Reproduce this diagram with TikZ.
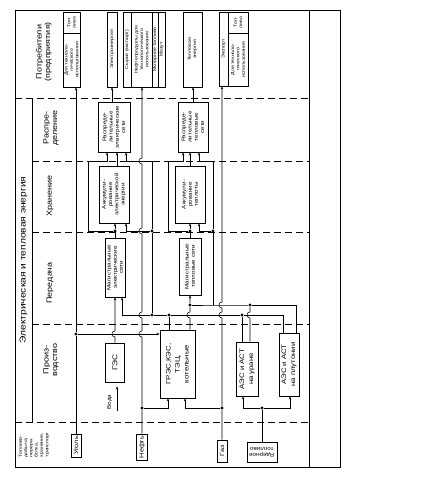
\documentclass[tikz,border=0pt]{standalone}
\usepackage{fontspec}
\setmainfont{Liberation Sans}[FakeStretch=1.2]
\usetikzlibrary{arrows.meta}

\newcommand\boxtxt{\fontsize{5.2}{6.2}\selectfont}
\newcommand\celltxt{\fontsize{4.3}{5.3}\selectfont}
\newcommand\fueltxt{\fontsize{6}{7}\selectfont}
\newcommand\planttxt{\fontsize{6.5}{9}\selectfont}
\newcommand\stagetxt{\fontsize{7.5}{8.5}\selectfont}
\newcommand\headtxt{\fontsize{8.5}{10}\selectfont}
\newcommand\hop[2]{-- (#1,#2+3) .. controls (#1-4,#2+3) and (#1-4,#2-3) .. (#1,#2-3)}

\begin{document}
\begin{tikzpicture}
    [x=1pt, y=-1pt,
    line width=0.55pt,
    every node/.style={inner sep=0.5pt},
    dims/.style 2 args={minimum width=#1pt, minimum height=#2pt},
    box/.style={draw, rotate=90, align=center, font=\boxtxt},
    cell/.style={draw, rotate=90, align=center, inner sep=0pt, font=\celltxt},
    stage/.style={rotate=90, align=center, font=\stagetxt},
    dot/.style={circle, fill, inner sep=0pt, minimum size=3.4pt},
    flow/.style={-{Stealth[length=3.2pt, width=2.4pt]}},
    cut/.style={dash pattern=on 7pt off 4pt}
    ]
    \useasboundingbox (0,0) rectangle (434,479);
    \draw (15,10) rectangle (340,467);
    \draw (309,10) -- (309,467);
    \draw (32,98) -- (32,422);
    \foreach \y/\x in {98/15, 161/32, 232/32, 324/32, 422/15}
        \draw[cut] (\x,\y) -- (309,\y);

    \node[stage, font=\headtxt] (energy) at (23.5,260) {Электрическая и тепловая энергия};
    \node[stage] (consumers) at (44,52) {Потребители\\(предприятия)};
    \node[stage] (distribution) at (51,128) {Распре-\\деление};
    \node[stage] (storage) at (50,196) {Хранение};
    \node[stage] (transmission) at (50,283) {Передача};
    \node[stage] (production) at (51,360) {Произ-\\водство};
    \node[stage, font=\celltxt, align=left] (fuel) at (34,445) {Топливо-\\добыча,\\перера-\\ботка,\\хранение,\\транспорт};

    \node[box, font=\fueltxt, dims={23}{10}] (coal) at (76,445.5) {Уголь};
    \node[box, font=\fueltxt, dims={26}{11}] (oil) at (142,447) {Нефть};
    \node[box, font=\fueltxt, dims={22}{10}] (gas) at (222,451) {Газ};
    \node[box, rotate=90, dims={30}{20}] (nuc) at (262,452) {Ядерное\\топливо};

    \node[box, font=\fontsize{7}{8}\selectfont, dims={39}{19}] (ges) at (115,362.5) {ГЭС};
    \node[box, font=\planttxt, dims={68}{35}] (gres) at (177.5,364) {ГРЭС,КЭС,\\ТЭЦ,\\котельные};
    \node[box, font=\planttxt, dims={54}{22}] (aesu) at (247,369) {АЭС и АСТ\\на уране};
    \node[box, font=\planttxt, dims={63}{20}] (aesp) at (289,364.5) {АЭС и АСТ\\на плутонии};
    \node[rotate=90, font=\boxtxt] (water) at (109.5,402) {Вода};
    \coordinate (wsrc) at (117,411);

    \node[box, dims={59}{20}] (mainE) at (115,267.5) {Магистральные\\электрические\\сети};
    \node[box, dims={57}{22}] (mainH) at (190,266.5) {Магистральные\\тепловые сети};
    \node[box, dims={57}{30}] (accE) at (114,194.5) {Аккумули-\\рование\\электрической\\энергии};
    \node[box, dims={57}{30}] (accH) at (190,194.5) {Аккумули-\\рование\\теплоты};
    \node[box, dims={50}{32}] (distE) at (114,127) {Распреде-\\лительные\\электрические\\сети};
    \node[box, dims={50}{30}] (distH) at (193,127) {Распреде-\\лительные\\тепловые\\сети};

    \node[cell, dims={21}{17}] (c1a) at (71.5,22.5) {Топ-\\ливо};
    \node[cell, dims={54}{17}] (c1b) at (71.5,60) {Для техноло-\\гического\\использования};
    \node[cell, dims={75}{10}] (c2) at (112,49.5) {Электроэнергия};
    \node[cell, dims={75}{8}] (c3a) at (127,49.5) {Сырье (экспорт)};
    \node[cell, dims={75}{21}] (c3b) at (141.5,49.5) {Нефтепродукты для\\технологического\\использования};
    \node[cell, dims={75}{6}] (c3c) at (155,49.5) {Моторное топливо};
    \node[cell, dims={75}{7}] (c3d) at (161.5,49.5) {Мазут};
    \node[cell, dims={75}{19}] (c4) at (192.5,49.5) {Тепловая\\энергия};
    \node[cell, dims={74}{9}] (c5a) at (223.5,49) {Экспорт};
    \node[cell, dims={21}{20}] (c5b) at (238,22.5) {Топ-\\ливо};
    \node[cell, dims={53}{20}] (c5c) at (238,59.5) {Для техноло-\\гического\\использования};

    \node[dot] (coalA) at (76,334) {};
    \node[dot] (oilG) at (142,408) {};
    \node[dot] (gasG) at (222,408) {};
    \node[dot] (nucJ) at (262,408) {};
    \node[dot] (eB) at (152,315) {};
    \node[dot] (grB) at (169,315) {};
    \node[dot] (uB) at (242,315) {};
    \node[dot] (grC) at (190,305) {};
    \node[dot] (uC) at (250,305) {};
    \coordinate (cC) at (213,305);
    \node[dot] (e1) at (115,231) {};
    \node[dot] (e3) at (152,231) {};
    \node[dot] (h1) at (190,231) {};
    \node[dot] (h3) at (213,231) {};

    \draw[flow] (coal.east) -- (coalA) -- (coal.east |- c1b.west);
    \draw[flow] (oil.east) -- (oilG) \hop{142}{334} \hop{142}{315} \hop{142}{231} \hop{142}{161} -- (oil.east |- c3b.west);
    \draw[flow] (gas.east) -- (gasG) \hop{222}{315} \hop{222}{305} -- (gas.east |- c5a.west);
    \draw[flow] (coalA) -- (coalA -| gres.north);
    \draw[flow] (oilG) -| ([xshift=-9.5pt]gres.west);
    \draw[flow] (gasG) -| ([xshift=7.5pt]gres.west);
    \draw (nuc.south) -- (nucJ);
    \draw[flow] (nucJ) -| ([xshift=-4pt]aesu.west);
    \draw[flow] (nucJ) -| ([xshift=1pt]aesp.west);
    \draw[flow] (wsrc) -- ([xshift=2pt, yshift=-4pt]ges.west);

    \draw[flow] (ges.east) \hop{115}{334} -- (ges.east |- mainE.west);
    \draw (grB |- gres.east) -- (grB);
    \draw[flow] (grC |- gres.east) \hop{190}{315} -- (grC) -- (grC |- mainH.west);
    \draw (uB |- aesu.east) -- (uB);
    \draw (uC |- aesu.east) \hop{250}{315} -- (uC);
    \draw[flow] ([xshift=-6pt]aesp.east) |- (uB) -- (grB) -- (eB) -| ([xshift=7pt]mainE.west);
    \draw ([xshift=7pt]aesp.east) |- (uC) -- (cC) -- (grC);

    \draw (mainE.east) -- (e1);
    \draw[flow] (e1) -- (e1 |- accE.west);
    \draw[flow] (e1) -- ++(-27,0) -- ++(0,-70) -| ([xshift=-7pt]distE.west);
    \draw (eB) -- (e3);
    \draw[flow] (e3) -| ([xshift=12pt]accE.west);
    \draw[flow] (e3) -- ++(0,-70) -| ([xshift=12pt]distE.west);
    \draw[flow] ([xshift=3pt]accE.east) -- ([xshift=3pt]distE.west);
    \draw[flow] ([xshift=-2pt]distE.east) -- (c2.west);

    \draw (mainH.east) -- (h1);
    \draw[flow] (h1) -- (h1 |- accH.west);
    \draw[flow] (h1) -- ++(-22,0) -- ++(0,-70) -| ([xshift=-10pt]distH.west);
    \draw (cC) -- (h3);
    \draw[flow] (h3) -| ([xshift=9pt]accH.west);
    \draw[flow] (h3) -- ++(0,-70) -| ([xshift=6pt]distH.west);
    \draw[flow] (accH.east) -- (accH.east |- distH.west);
    \draw[flow] (distH.east) -- (distH.east |- c4.west);
\end{tikzpicture}
\end{document}
